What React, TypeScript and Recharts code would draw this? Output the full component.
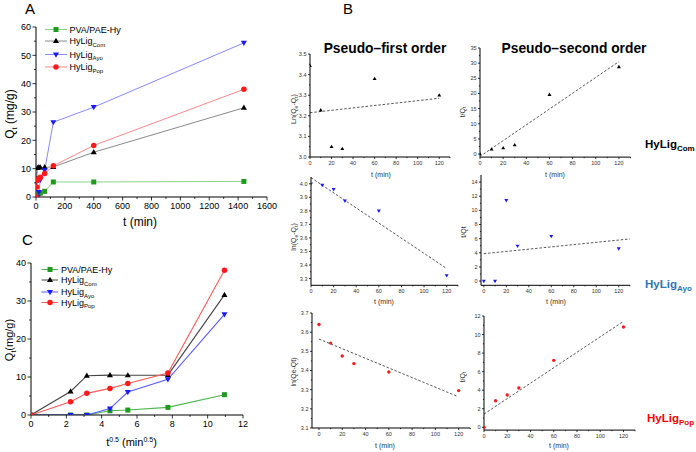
import React from 'react';
import { LineChart, Line, XAxis, YAxis } from 'recharts';

const FONT = '"Liberation Sans", Arial, Helvetica, sans-serif';

// panel A: Qt vs t
const timeA = [0, 5, 10, 20, 30, 60, 120, 400, 1440];
const pvaA = [0, 0, 0, 1.2, 1.4, 2.0, 5.3, 5.3, 5.5];
const comA = [0, 6.2, 10.3, 10.5, 10.4, 10.5, 10.6, 15.8, 31.5];
const ayoA = [0, 0, 0, 1.7, 6.1, 9.4, 26.4, 31.7, 54.4];
const popA = [0, 3.5, 5.8, 6.5, 7.0, 8.3, 11.0, 18.2, 38.0];

// panel C: Qt vs t^0.5
const sqrtT = [0, 2.24, 3.16, 4.47, 5.48, 7.75, 10.95];
const pvaC = [0, 0, 0, 1.1, 1.3, 2.0, 5.35];
const comC = [0, 6.2, 10.35, 10.5, 10.45, 10.5, 31.6];
const ayoC = [0, 0, 0, 1.7, 6.05, 9.4, 26.5];
const popC = [0, 3.5, 5.7, 7.0, 8.3, 11.05, 38.1];

// panel B: linearised kinetics
const tB = [0, 10, 20, 30, 60, 120];
const pfoCom = [3.443, 3.228, 3.05, 3.04, 3.38, 3.3];
const psoCom = [0, 1.6, 2.0, 3.0, 19.6, 28.8];
const pfoAyo = [4.0, 3.99, 3.958, 3.874, 3.8, 3.322];
const psoAyo = [0, 0, 11.4, 4.96, 6.33, 4.58];
const pfoPop = [3.64, 3.543, 3.476, 3.436, 3.392, 3.295];
const psoPop = [0, 2.87, 3.48, 4.24, 7.22, 10.81];

// fitted lines (end points)
const fitPfoComT = [0, 120];
const fitPfoComV = [3.215, 3.285];
const fitPsoComT = [3, 120];
const fitPsoComV = [0, 30.5];
const fitPfoAyoT = [0, 120];
const fitPfoAyoV = [4.045, 3.374];
const fitPsoAyoT = [0, 130];
const fitPsoAyoV = [3.87, 5.96];
const fitPfoPopT = [0, 119];
const fitPfoPopV = [3.564, 3.265];
const fitPsoPopT = [0, 120];
const fitPsoPopV = [1.43, 11.42];

// ticks
const ticksA_x = [0, 200, 400, 600, 800, 1000, 1200, 1400, 1600];
const ticksA_y = [0, 10, 20, 30, 40, 50, 60];
const ticksC_x = [0, 2, 4, 6, 8, 10, 12];
const ticksC_y = [0, 10, 20, 30, 40];
const ticksB_t = [0, 20, 40, 60, 80, 100, 120];
const ticksB1_y = [3.0, 3.1, 3.2, 3.3, 3.4, 3.5];
const ticksB2_y = [0, 5, 10, 15, 20, 25, 30, 35];
const ticksB3_y = [3.3, 3.4, 3.5, 3.6, 3.7, 3.8, 3.9, 4.0];
const ticksB4_y = [0, 2, 4, 6, 8, 10, 12, 14];
const ticksB5_y = [3.1, 3.2, 3.3, 3.4, 3.5, 3.6, 3.7];
const ticksB6_y = [0, 2, 4, 6, 8, 10, 12];

const GREEN = '#1f9a1f';
const BLACK = '#000000';
const BLUE = '#1a1aff';
const RED = '#ff1a1a';

const mids = (arr: number[], extra?: number) => {
  const out: number[] = [];
  for (let i = 0; i < arr.length - 1; i++) out.push((arr[i] + arr[i + 1]) / 2);
  if (extra !== undefined) out.push(extra);
  return out;
};

function Marker({ cx, cy, shape, size, fill }: any) {
  if (cx == null || cy == null) return null;
  const h = size / 2;
  if (shape === 'square') return <rect x={cx - h} y={cy - h} width={size} height={size} fill={fill} />;
  if (shape === 'circle') return <circle cx={cx} cy={cy} r={h} fill={fill} />;
  if (shape === 'up')
    return <polygon points={`${cx},${cy - h * 1.15} ${cx - h * 1.1},${cy + h * 0.75} ${cx + h * 1.1},${cy + h * 0.75}`} fill={fill} />;
  return <polygon points={`${cx},${cy + h * 1.15} ${cx - h * 1.1},${cy - h * 0.75} ${cx + h * 1.1},${cy - h * 0.75}`} fill={fill} />;
}

const pts = (xs: number[], ys: number[]) => xs.map((x, i) => ({ x, y: ys[i] }));

function Plot({ box, xDomain, yDomain, xMajor, yMajor, xMinor, yMinor, fs, len, fmtX, fmtY, color = '#000', series, fits = [] }: any) {
  const [x0, y0, x1, y1] = box;
  const wy = 40, hx = 30, mt = 6, mr = 16;
  const width = wy + (x1 - x0) + mr;
  const height = mt + (y1 - y0) + hx;
  const isMajor = (list: number[], v: number) => list.some((m) => Math.abs(m - v) < 1e-9);

  const xTick = (p: any) => {
    const v = p.payload.value;
    const major = isMajor(xMajor, v);
    return (
      <g>
        <line x1={p.x} x2={p.x} y1={p.y} y2={p.y + (major ? len : len * 0.55)} stroke="#000" strokeWidth={0.8} />
        {major && (
          <text x={p.x} y={p.y + len + 1.5 + fs * 0.75} textAnchor="middle" fontSize={fs} fill={color} fontFamily={FONT}>
            {fmtX(v)}
          </text>
        )}
      </g>
    );
  };
  const yTick = (p: any) => {
    const v = p.payload.value;
    const major = isMajor(yMajor, v);
    return (
      <g>
        <line x1={p.x - (major ? len : len * 0.55)} x2={p.x} y1={p.y} y2={p.y} stroke="#000" strokeWidth={0.8} />
        {major && (
          <text x={p.x - len - 1.5} y={p.y + fs * 0.36} textAnchor="end" fontSize={fs} fill={color} fontFamily={FONT}>
            {fmtY(v)}
          </text>
        )}
      </g>
    );
  };

  return (
    <div style={{ position: 'absolute', left: x0 - wy, top: y0 - mt }}>
      <LineChart width={width} height={height} margin={{ top: mt, right: mr, bottom: 0, left: 0 }}>
        <XAxis
          type="number" dataKey="x" domain={xDomain} allowDataOverflow
          ticks={[...xMajor, ...xMinor].sort((a, b) => a - b)} interval={0}
          tickSize={0} tickMargin={0} tickLine={false} height={hx} tick={xTick}
          axisLine={{ stroke: '#000', strokeWidth: 1 }}
        />
        <YAxis
          type="number" dataKey="y" domain={yDomain} allowDataOverflow
          ticks={[...yMajor, ...yMinor].sort((a, b) => a - b)} interval={0}
          tickSize={0} tickMargin={0} tickLine={false} width={wy} tick={yTick}
          axisLine={{ stroke: '#000', strokeWidth: 1 }}
        />
        {fits.map((f: any, i: number) => (
          <Line key={`f${i}`} data={pts(f.xs, f.ys)} dataKey="y" stroke="#444" strokeWidth={0.9}
            strokeDasharray="2.5 1.8" dot={false} activeDot={false} isAnimationActive={false} />
        ))}
        {series.map((s: any, i: number) => (
          <Line
            key={`s${i}`} data={pts(s.xs, s.ys)} dataKey="y"
            stroke={s.line || 'none'} strokeWidth={s.lw || 1}
            dot={(p: any) => <Marker key={`m${i}-${p.index}`} cx={p.cx} cy={p.cy} shape={s.shape} size={s.size} fill={s.fill} />}
            activeDot={false} isAnimationActive={false}
          />
        ))}
      </LineChart>
    </div>
  );
}

const fmtInt = (v: number) => `${Math.round(v)}`;
const fmt1 = (v: number) => v.toFixed(1);

function LegendRow({ x1, x2, mx, tx, y, line, fill, shape, size, label, sub }: any) {
  return (
    <g>
      <line x1={x1} x2={x2} y1={y} y2={y} stroke={line} strokeWidth={1} />
      <Marker cx={mx} cy={y} shape={shape} size={size} fill={fill} />
      <text x={tx} y={y + 3.3} fontSize={9} fontFamily={FONT} fill="#000">
        {label}
        {sub && <tspan dy={2.5} fontSize={6}>{sub}</tspan>}
      </text>
    </g>
  );
}

const bMajorT = ticksB_t;
const bMinorT = mids(ticksB_t, 130);

export default function App() {
  const lineA = ['#8ad48a', '#8a8a8a', '#8a8aff', '#ff8a8a'];
  const lineC = ['#4cb84c', '#444444', '#5a5aff', '#ff5a5a'];
  const legendItems = [
    { fill: GREEN, shape: 'square', size: 5, label: 'PVA/PAE-Hy' },
    { fill: BLACK, shape: 'up', size: 5.5, label: 'HyLig', sub: 'Com' },
    { fill: BLUE, shape: 'down', size: 5.5, label: 'HyLig', sub: 'Ayo' },
    { fill: RED, shape: 'circle', size: 5.5, label: 'HyLig', sub: 'Pop' },
  ];
  const rowsA = [29.5, 41, 54.5, 67];
  const rowsC = [269.5, 280, 292, 302.5];

  return (
    <div style={{ position: 'absolute', left: 0, top: 0, width: 696, height: 452, background: '#fff', overflow: 'hidden' }}>
      {/* A */}
      <Plot
        box={[36, 27, 267, 197]} xDomain={[0, 1600]} yDomain={[0, 60]}
        xMajor={ticksA_x} xMinor={mids(ticksA_x)} yMajor={ticksA_y} yMinor={mids(ticksA_y)}
        fs={9} len={3.5} fmtX={fmtInt} fmtY={fmtInt}
        series={[
          { xs: timeA, ys: pvaA, fill: GREEN, line: lineA[0], shape: 'square', size: 5 },
          { xs: timeA, ys: comA, fill: BLACK, line: lineA[1], shape: 'up', size: 5.5 },
          { xs: timeA, ys: ayoA, fill: BLUE, line: lineA[2], shape: 'down', size: 5.5 },
          { xs: timeA, ys: popA, fill: RED, line: lineA[3], shape: 'circle', size: 5.5 },
        ]}
      />
      {/* C */}
      <Plot
        box={[31, 263, 243, 415]} xDomain={[0, 12]} yDomain={[0, 40]}
        xMajor={ticksC_x} xMinor={mids(ticksC_x)} yMajor={ticksC_y} yMinor={mids(ticksC_y)}
        fs={9} len={3.5} fmtX={fmtInt} fmtY={fmtInt}
        series={[
          { xs: sqrtT, ys: pvaC, fill: GREEN, line: lineC[0], shape: 'square', size: 5, lw: 1.1 },
          { xs: sqrtT, ys: comC, fill: BLACK, line: lineC[1], shape: 'up', size: 5.5, lw: 1.1 },
          { xs: sqrtT, ys: ayoC, fill: BLUE, line: lineC[2], shape: 'down', size: 5.5, lw: 1.1 },
          { xs: sqrtT, ys: popC, fill: RED, line: lineC[3], shape: 'circle', size: 5.5, lw: 1.1 },
        ]}
      />
      {/* B1 */}
      <Plot
        box={[310, 54, 450, 157]} xDomain={[0, 130]} yDomain={[3.0, 3.5]}
        xMajor={bMajorT} xMinor={bMinorT} yMajor={ticksB1_y} yMinor={mids(ticksB1_y)}
        fs={5.5} len={2} fmtX={fmtInt} fmtY={fmt1} color="#333"
        fits={[{ xs: fitPfoComT, ys: fitPfoComV }]}
        series={[{ xs: tB, ys: pfoCom, fill: BLACK, shape: 'up', size: 3.6 }]}
      />
      {/* B2 */}
      <Plot
        box={[479.5, 47.7, 630, 156.8]} xDomain={[0, 130]} yDomain={[-1, 35]}
        xMajor={bMajorT} xMinor={bMinorT} yMajor={ticksB2_y} yMinor={mids(ticksB2_y)}
        fs={5.5} len={2} fmtX={fmtInt} fmtY={fmtInt} color="#333"
        fits={[{ xs: fitPsoComT, ys: fitPsoComV }]}
        series={[{ xs: tB, ys: psoCom, fill: BLACK, shape: 'up', size: 3.6 }]}
      />
      {/* B3 */}
      <Plot
        box={[311, 176.7, 458, 285]} xDomain={[0, 130]} yDomain={[3.25, 4.05]}
        xMajor={bMajorT} xMinor={bMinorT} yMajor={ticksB3_y} yMinor={mids(ticksB3_y)}
        fs={5.5} len={2} fmtX={fmtInt} fmtY={fmt1} color="#333"
        fits={[{ xs: fitPfoAyoT, ys: fitPfoAyoV }]}
        series={[{ xs: tB, ys: pfoAyo, fill: BLUE, shape: 'down', size: 3.6 }]}
      />
      {/* B4 */}
      <Plot
        box={[481, 175.2, 630, 285.5]} xDomain={[-2.5, 130]} yDomain={[-0.6, 15]}
        xMajor={bMajorT} xMinor={bMinorT} yMajor={ticksB4_y} yMinor={mids(ticksB4_y)}
        fs={5.5} len={2} fmtX={fmtInt} fmtY={fmtInt} color="#333"
        fits={[{ xs: fitPsoAyoT, ys: fitPsoAyoV }]}
        series={[{ xs: tB, ys: psoAyo, fill: BLUE, shape: 'down', size: 3.6 }]}
      />
      {/* B5 */}
      <Plot
        box={[312, 313, 470.3, 428]} xDomain={[-6, 130]} yDomain={[3.1, 3.7]}
        xMajor={bMajorT} xMinor={bMinorT} yMajor={ticksB5_y} yMinor={mids(ticksB5_y)}
        fs={5.5} len={2} fmtX={fmtInt} fmtY={fmt1} color="#333"
        fits={[{ xs: fitPfoPopT, ys: fitPfoPopV }]}
        series={[{ xs: tB, ys: pfoPop, fill: RED, shape: 'circle', size: 3.4 }]}
      />
      {/* B6 */}
      <Plot
        box={[484.3, 315.7, 635.4, 429.8]} xDomain={[0, 130]} yDomain={[-0.3, 12]}
        xMajor={bMajorT} xMinor={bMinorT} yMajor={ticksB6_y} yMinor={mids(ticksB6_y)}
        fs={5.5} len={2} fmtX={fmtInt} fmtY={fmtInt} color="#333"
        fits={[{ xs: fitPsoPopT, ys: fitPsoPopV }]}
        series={[{ xs: tB, ys: psoPop, fill: RED, shape: 'circle', size: 3.4 }]}
      />

      <svg width={696} height={452} style={{ position: 'absolute', left: 0, top: 0, pointerEvents: 'none' }} fontFamily={FONT}>
        {/* panel letters */}
        <text x={25} y={14} fontSize={15}>A</text>
        <text x={343} y={14} fontSize={15}>B</text>
        <text x={22} y={245} fontSize={15}>C</text>

        {/* A labels */}
        <text x={140} y={226} fontSize={12} textAnchor="middle">t (min)</text>
        <text transform="translate(13.5,114) rotate(-90)" fontSize={12} textAnchor="middle">
          Q<tspan dy={3} fontSize={8}>t</tspan><tspan dy={-3}> (mg/g)</tspan>
        </text>
        {legendItems.map((it, i) => (
          <LegendRow key={`la${i}`} x1={45} x2={67} mx={56} tx={69.5} y={rowsA[i]} line={lineA[i]} {...it} />
        ))}

        {/* C labels */}
        <text x={131.5} y={446} fontSize={11} textAnchor="middle">
          t<tspan dy={-4} fontSize={7}>0.5</tspan><tspan dy={4}> (min</tspan><tspan dy={-4} fontSize={7}>0.5</tspan><tspan dy={4}>)</tspan>
        </text>
        <text transform="translate(12.5,340) rotate(-90)" fontSize={11} textAnchor="middle">
          Q<tspan dy={3} fontSize={7}>t</tspan><tspan dy={-3}>(mg/g)</tspan>
        </text>
        {legendItems.map((it, i) => (
          <LegendRow key={`lc${i}`} x1={41.5} x2={58} mx={50} tx={61} y={rowsC[i]} line={lineC[i]} {...it} />
        ))}

        {/* B titles */}
        <text x={385} y={52.5} fontSize={13.8} fontWeight="bold" textAnchor="middle">Pseudo–first order</text>
        <text x={574} y={52.5} fontSize={13.8} fontWeight="bold" textAnchor="middle">Pseudo–second order</text>

        {/* B axis labels */}
        <text x={381} y={176.5} fontSize={7} textAnchor="middle" fill="#333">t (min)</text>
        <text x={555} y={176.5} fontSize={7} textAnchor="middle" fill="#333">t (min)</text>
        <text x={384} y={304} fontSize={7} textAnchor="middle" fill="#333">t (min)</text>
        <text x={556} y={304} fontSize={7} textAnchor="middle" fill="#333">t (min)</text>
        <text x={385} y={447.5} fontSize={7} textAnchor="middle" fill="#333">t (min)</text>
        <text x={559} y={447.5} fontSize={7} textAnchor="middle" fill="#333">t (min)</text>

        <text transform="translate(296,109) rotate(-90)" fontSize={7} textAnchor="middle" fill="#333">
          Ln(Q<tspan dy={1.8} fontSize={5}>e</tspan><tspan dy={-1.8}>-Q</tspan><tspan dy={1.8} fontSize={5}>t</tspan><tspan dy={-1.8}>)</tspan>
        </text>
        <text transform="translate(464.5,112) rotate(-90)" fontSize={7} textAnchor="middle" fill="#333">
          t/Q<tspan dy={1.8} fontSize={5}>t</tspan>
        </text>
        <text transform="translate(296,237) rotate(-90)" fontSize={7} textAnchor="middle" fill="#333">
          ln(Q<tspan dy={1.8} fontSize={5}>e</tspan><tspan dy={-1.8}>-Q</tspan><tspan dy={1.8} fontSize={5}>t</tspan><tspan dy={-1.8}>)</tspan>
        </text>
        <text transform="translate(466,232) rotate(-90)" fontSize={7} textAnchor="middle" fill="#333">t/Qt</text>
        <text transform="translate(296,372) rotate(-90)" fontSize={7} textAnchor="middle" fill="#333">ln(Qe-Qt)</text>
        <text transform="translate(464.5,377) rotate(-90)" fontSize={7} textAnchor="middle" fill="#333">
          t/Q<tspan dy={1.8} fontSize={5}>t</tspan>
        </text>

        {/* sample labels */}
        <text x={645} y={148} fontSize={11.5} fontWeight="bold" fill="#000">
          HyLig<tspan dy={3} fontSize={8}>Com</tspan>
        </text>
        <text x={645} y={288} fontSize={11.5} fontWeight="bold" fill="#2f75b5">
          HyLig<tspan dy={3} fontSize={8}>Ayo</tspan>
        </text>
        <text x={647} y={422} fontSize={11.5} fontWeight="bold" fill="#ff0000">
          HyLig<tspan dy={3} fontSize={8}>Pop</tspan>
        </text>
      </svg>
    </div>
  );
}
